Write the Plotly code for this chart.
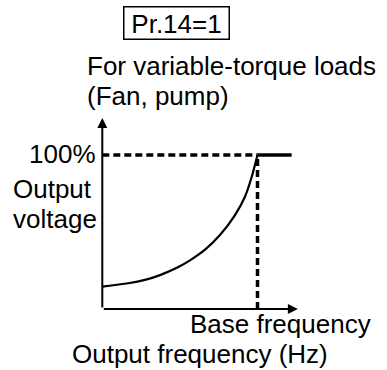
import plotly.graph_objects as go

# V/F pattern for variable-torque loads (fan, pump)
freq_ratio = [0.0, 0.168, 0.275, 0.372, 0.490, 0.565, 0.662, 0.758, 0.855, 0.919, 0.963, 1.0]
voltage_pct = [14.5, 16.7, 18.9, 22.0, 27.3, 31.6, 38.5, 48.0, 61.0, 72.9, 85.9, 100.0]

# Output held at 100 % above base frequency
flat_freq = [1.0, 1.22]
flat_volt = [100.0, 100.0]

base_freq = 1.0
rated_volt = 100.0
x_axis_end = 1.26
y_axis_end = 124.0

W, H = 387, 370
X0, XS = 102.3, 155.2   # pixel of f=0, pixels per unit of base frequency
Y0, YS = 309.0, 1.54    # pixel of V=0, pixels per percent


def fx(px):
    return (px - X0) / XS


def fy(py):
    return (Y0 - py) / YS


FONT = dict(family="Arial, Liberation Sans, sans-serif", size=26, color="black")
DESCENT = 5.5

fig = go.Figure()

# reference lines to the 100 % / base-frequency point
fig.add_trace(go.Scatter(x=[0, base_freq], y=[rated_volt, rated_volt], mode="lines",
                         line=dict(color="black", width=3.5, dash="7px,4px"), hoverinfo="skip"))
fig.add_trace(go.Scatter(x=[base_freq, base_freq], y=[0, rated_volt], mode="lines",
                         line=dict(color="black", width=3.5, dash="7px,4px"), hoverinfo="skip"))

# voltage curve
fig.add_trace(go.Scatter(x=freq_ratio, y=voltage_pct, mode="lines",
                         line=dict(color="black", width=2.2, shape="spline", smoothing=0.8)))
fig.add_trace(go.Scatter(x=flat_freq, y=flat_volt, mode="lines",
                         line=dict(color="black", width=3.5)))

annotations = []
# axes with arrowheads
annotations.append(dict(x=0, y=y_axis_end, ax=0, ay=0, xref="x", yref="y", axref="x", ayref="y",
                        showarrow=True, arrowhead=2, arrowwidth=2, arrowsize=1, arrowcolor="black", text=""))
annotations.append(dict(x=x_axis_end, y=0, ax=0, ay=0, xref="x", yref="y", axref="x", ayref="y",
                        showarrow=True, arrowhead=2, arrowwidth=2, arrowsize=1, arrowcolor="black", text=""))


def label(text, px, baseline, xanchor="left"):
    annotations.append(dict(text=text, x=fx(px), y=fy(baseline + DESCENT), xref="x", yref="y",
                            xanchor=xanchor, yanchor="bottom", borderpad=0, borderwidth=0,
                            showarrow=False, font=FONT))


# parameter setting in a framed box
annotations.append(dict(text="Pr.14=1", x=fx(176.3), y=fy(22.5), xref="x", yref="y",
                        xanchor="center", yanchor="middle", valign="bottom", showarrow=False,
                        font=FONT, bordercolor="black", borderwidth=1.5, borderpad=0,
                        width=104, height=31))

label("For variable-torque loads", 87, 76)
label("(Fan, pump)", 87, 105.5)
label("100%", 96, 163, xanchor="right")
label("Output", 13, 198)
label("voltage", 13, 228)
label("Base frequency", 190, 333.5)
label("Output frequency (Hz)", 72, 363)

fig.update_layout(
    width=W, height=H,
    margin=dict(l=0, r=0, t=0, b=0),
    paper_bgcolor="white", plot_bgcolor="white",
    showlegend=False,
    annotations=annotations,
    xaxis=dict(range=[fx(0), fx(W)], visible=False, fixedrange=True),
    yaxis=dict(range=[fy(H), fy(0)], visible=False, fixedrange=True),
)

fig.write_html("out.html")
